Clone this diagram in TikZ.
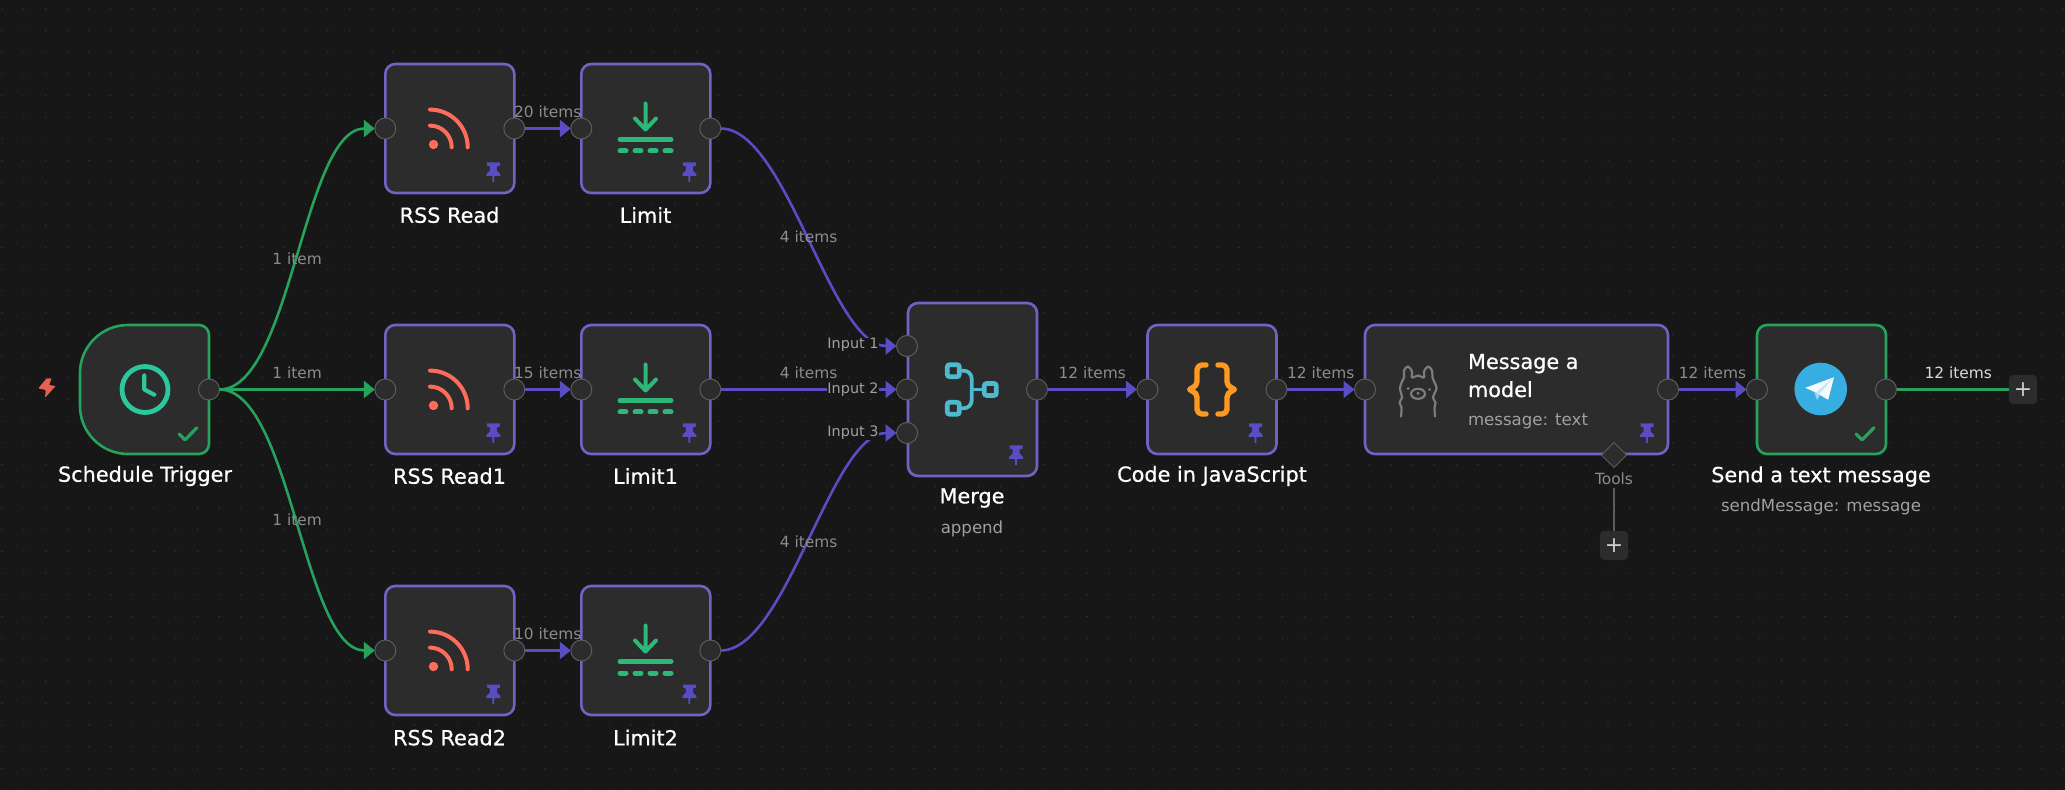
\documentclass[tikz,border=0pt]{standalone}
\usepackage{fontspec}
\setmainfont{DejaVu Sans}
\newfontfamily\wftitlefont[FakeBold=0.6]{DejaVu Sans}
\usepackage{tikz}
\usetikzlibrary{arrows.meta}
\usetikzlibrary{shapes.geometric}
\definecolor{wf_bg}{HTML}{171717}
\definecolor{wf_dot}{HTML}{333333}
\definecolor{wf_fill}{HTML}{2C2C2C}
\definecolor{wf_purple}{HTML}{7063C4}
\definecolor{wf_wire}{HTML}{5A4CC2}
\definecolor{wf_green}{HTML}{26A25C}
\definecolor{wf_grey}{HTML}{8C8C8C}
\definecolor{wf_sub}{HTML}{A0A0A0}
\definecolor{wf_portline}{HTML}{5C5C5C}
\definecolor{wf_rss}{HTML}{FF6D5A}
\definecolor{wf_limit}{HTML}{2DB878}
\definecolor{wf_clock}{HTML}{2CC79D}
\definecolor{wf_merge}{HTML}{4FB9CF}
\definecolor{wf_code}{HTML}{FF9922}
\definecolor{wf_llama}{HTML}{7C7C7C}
\definecolor{wf_sky}{HTML}{37AEE2}
\definecolor{wf_bolt}{HTML}{E8604F}
\tikzset{wf_chart/.style={x=0.5pt,y=-0.5pt,inner sep=0pt,outer sep=0pt}}
\tikzset{wf_box/.style={draw=wf_purple,fill=wf_fill,line width=1.3pt,rounded corners=5pt,minimum width=64.5pt,minimum height=64.5pt}}
\tikzset{wf_port/.style={circle,draw=wf_portline,fill=wf_fill,line width=0.5pt,minimum size=10.5pt}}
\tikzset{wf_edge/.style={->,>={Triangle[length=5.5pt,width=8.5pt]},draw=wf_wire,line width=1.3pt}}
\tikzset{wf_curve/.style={wf_edge,out=0,in=180,looseness=0.6}}
\tikzset{wf_title/.style={text=white,font=\wftitlefont\fontsize{10.4}{14}\selectfont}}
\tikzset{wf_note/.style={text=wf_sub,font=\fontsize{8.3}{10}\selectfont}}
\tikzset{wf_input/.style={text=wf_sub,font=\fontsize{7.2}{10}\selectfont}}
\tikzset{wf_count/.style={text=wf_grey,font=\fontsize{7.7}{10}\selectfont}}
\tikzset{wf_plus/.style={draw=none,fill=wf_fill,rounded corners=2.2pt,minimum width=14.2pt,minimum height=14.5pt,text=white!80!black,font=\fontsize{11}{11}\selectfont}}
\tikzset{
    pin_icon/.pic={
        \fill[wf_wire] (-6.5,-9.5) -- (6.5,-9.5) -- (6.5,-6.5) -- (3.5,-5.5) -- (3.5,-1.5) -- (7,2) -- (7,4) -- (1,4) -- (0.8,10) -- (-0.8,10) -- (-1,4) -- (-7,4) -- (-7,2) -- (-3.5,-1.5) -- (-3.5,-5.5) -- (-6.5,-6.5) -- cycle;
    },
    check_icon/.pic={
        \draw[wf_green,line width=1.6pt,line cap=round,line join=round] (-30,-20) -- (-24,-14.2) -- (-12,-26.3);
    },
    rss_icon/.pic={
        \fill[color=wf_rss] (-16,16) circle (4.7);
        \draw[wf_rss,line width=2pt,line cap=round] (-19.5,-2.9) arc[start angle=-90,end angle=0,radius=21.7];
        \draw[wf_rss,line width=2pt,line cap=round] (-19.5,-18.9) arc[start angle=-90,end angle=0,radius=37.7];
    },
    limit_icon/.pic={
        \draw[wf_limit,line width=2pt,line cap=round,line join=round] (0,-25) -- (0,1) (-10.5,-10) -- (0,1) -- (10.5,-10);
        \draw[wf_limit,line width=2.5pt,line cap=round] (-25.5,11) -- (25.5,11);
        \foreach \dashx in {-25.5,-10.5,4.5,19.5}
            \draw[wf_limit,line width=2.5pt,line cap=round] (\dashx,22.5) -- (\dashx+6,22.5);
    },
    clock_icon/.pic={
        \draw[wf_clock,line width=2.4pt] (0,0) circle (23);
        \draw[wf_clock,line width=2.1pt,line cap=round,line join=round] (-0.7,-14) -- (-0.7,0) -- (9.3,5.2);
    },
    merge_icon/.pic={
        \foreach \sqx/\sqy in {-18.7/-18.8,-18.7/18.8,18.3/0}
            \draw[wf_merge,line width=2.35pt,rounded corners=1.2pt] (\sqx-6,\sqy-6) rectangle (\sqx+6,\sqy+6);
        \draw[wf_merge,line width=1.9pt,rounded corners=4pt] (-11,-18.8) -- (-0.3,-18.8) -- (-0.3,18.8) -- (-11,18.8);
        \draw[wf_merge,line width=1.9pt] (-0.3,0) -- (10,0);
    },
    code_icon/.pic={
        \draw[wf_code,line width=2.7pt,rounded corners=2.4pt,line cap=round,line join=round] (-6,-24.5) -- (-15,-24.5) -- (-15,-3) -- (-25,0) -- (-15,3) -- (-15,24.5) -- (-6,24.5);
        \draw[wf_code,line width=2.7pt,rounded corners=2.4pt,line cap=round,line join=round] (6,-24.5) -- (15,-24.5) -- (15,-3) -- (25,0) -- (15,3) -- (15,24.5) -- (6,24.5);
    },
    llama_icon/.pic={
        \draw[wf_llama,line width=1.1pt,line cap=round,line join=round] plot[smooth,tension=0.6] coordinates {(-17,25) (-16.5,16) (-18.5,11) (-16,6) (-18,-3) (-16,-10) (-14,-14) (-14,-21) (-10,-25) (-6,-20) (-6,-14) (0,-16) (6,-14) (6,-20) (10,-25) (14,-21) (14.5,-14) (17,-8) (18.5,-3) (15,6) (17.5,11) (16.5,16) (17,25)};
        \draw[wf_llama,line width=1.1pt] (0,2.3) ellipse (7 and 5);
        \fill[wf_llama] (-10,-3) circle (1.5) (11.5,-2) circle (1.5) (0,1.8) circle (1.7);
    },
    plane_icon/.pic={
        \fill[color=wf_sky] (0,0) circle (26.3);
        \fill[white!95!wf_sky] (13.3,-11.8) -- (-15.3,-1.2) -- (-5,3.5) -- (7.5,10.8) -- cycle;
        \fill[wf_sky!30!white] (13.3,-11.8) -- (-5,3.5) -- (-2.5,6.2) -- cycle;
        \fill[wf_sky!50!white] (-6.5,3.5) -- (-3.5,11) -- (-1,6) -- cycle;
    }
}

\begin{document}
\begin{tikzpicture}[wf_chart]
    \useasboundingbox[fill=wf_bg] (0,0) rectangle (2065,790);
    \foreach \dx in {0,...,95}
        \foreach \dy in {0,...,36}
            \fill[wf_dot] ({2.2+21.7*\dx},{8.9+21.7*\dy}) circle (0.8);

    \node[wf_box] (rss1) at (449.8,128.5) {};
    \node[wf_box] (limit1) at (645.8,128.5) {};
    \node[wf_box] (rss2) at (449.8,389.5) {};
    \node[wf_box] (limit2) at (645.8,389.5) {};
    \node[wf_box] (rss3) at (449.8,650.5) {};
    \node[wf_box] (limit3) at (645.8,650.5) {};
    \node[wf_box, minimum height=86.5pt] (merge) at (972.5,389.5) {};
    \node[wf_box] (code) at (1212,389.5) {};
    \node[wf_box, minimum width=151.5pt] (model) at (1516.5,389.5) {};
    \node[wf_box, draw=wf_green] (send) at (1821.5,389.5) {};

    %trigger has the big round left side
    \filldraw[draw=wf_green,fill=wf_fill,line width=1.3pt] (128,325) -- (199,325) arc[start angle=-90,end angle=0,radius=10] -- (209,444) arc[start angle=0,end angle=90,radius=10] -- (128,454) arc[start angle=90,end angle=180,radius=48] -- (80,373) arc[start angle=180,end angle=270,radius=48] -- cycle;
    \coordinate (trigger) at (209,389.5);
    \fill[wf_bolt,rounded corners=0.4pt] (46.7,378.3) -- (51.7,378.3) -- (49,385) -- (55.7,386) -- (45,397.7) -- (45.8,390) -- (38.3,388.3) -- cycle;

    \pic at (145,389.5) {clock_icon};
    \pic at (449.5,128.5) {rss_icon};
    \pic at (449.5,389.5) {rss_icon};
    \pic at (449.5,650.5) {rss_icon};
    \pic at (645.5,128.5) {limit_icon};
    \pic at (645.5,389.5) {limit_icon};
    \pic at (645.5,650.5) {limit_icon};
    \pic at (972,389.5) {merge_icon};
    \pic at (1212,389.5) {code_icon};
    \pic at (1418,391.5) {llama_icon};
    \pic at (1820.7,389) {plane_icon};
    \foreach \n in {rss1,limit1,rss2,limit2,rss3,limit3,merge,code,model}
        \pic at ([shift={(-21,-21)}]\n.south east) {pin_icon};
    \pic at (trigger |- send.south) {check_icon};
    \pic at (send.south east) {check_icon};

    \node[wf_port] (trigger_out) at (trigger) {};
    \foreach \n in {rss1,limit1,rss2,limit2,rss3,limit3,code,model,send} {
        \node[wf_port] (\n_in) at (\n.west) {};
        \node[wf_port] (\n_out) at (\n.east) {};
    }
    \node[wf_port] (merge_in1) at (907,346) {};
    \node[wf_port] (merge_in2) at (907,389.5) {};
    \node[wf_port] (merge_in3) at (907,433) {};
    \node[wf_port] (merge_out) at (merge.east) {};
    \node[diamond,aspect=1,draw=wf_portline,fill=wf_fill,line width=0.5pt,minimum size=12.5pt] (model_tools) at (1614,455) {};
    \node[wf_plus] (tools_add) at (1614,545.5) {+};
    \node[wf_plus] (send_add) at (2023,389.5) {+};

    \path[every node/.style={wf_count}]
        (trigger_out) edge [wf_curve, draw=wf_green] node {1 item} (rss1_in)
        (trigger_out) edge [wf_edge, draw=wf_green] node [above=5.5pt] {1 item} (rss2_in)
        (trigger_out) edge [wf_curve, draw=wf_green] node {1 item} (rss3_in)
        (rss1_out) edge [wf_edge] node [above=5.5pt] {20 items} (limit1_in)
        (rss2_out) edge [wf_edge] node [above=5.5pt] {15 items} (limit2_in)
        (rss3_out) edge [wf_edge] node [above=5.5pt] {10 items} (limit3_in)
        (limit1_out) edge [wf_curve] node {4 items} (merge_in1)
        (limit2_out) edge [wf_edge] node [above=5.5pt] {4 items} (merge_in2)
        (limit3_out) edge [wf_curve] node {4 items} (merge_in3)
        (merge_out) edge [wf_edge] node [above=5.5pt] {12 items} (code_in)
        (code_out) edge [wf_edge] node [above=5.5pt] {12 items} (model_in)
        (model_out) edge [wf_edge] node [above=5.5pt] {12 items} (send_in)
        (send_out) edge [wf_edge, -, draw=wf_green] node [pos=0.55, above=5.5pt, text=white!85!black] {12 items} (send_add)
        (model_tools) edge [wf_edge, -, draw=wf_portline] node [pos=0.17, fill=wf_bg, inner ysep=2pt] {Tools} (tools_add)
    ;

    \node[wf_input, anchor=east, fill=wf_bg] (input1) at (878.5,345) {Input 1};
    \node[wf_input, anchor=east, fill=wf_bg] (input2) at (878.5,389.5) {Input 2};
    \node[wf_input, anchor=east, fill=wf_bg] (input3) at (878.5,433) {Input 3};

    \node[wf_title] (trigger_name) at (145,476) {Schedule Trigger};
    \node[wf_title] (rss1_name) at (449.5,215) {RSS Read};
    \node[wf_title] (limit1_name) at (645.5,215) {Limit};
    \node[wf_title] (rss2_name) at (449.5,476) {RSS Read1};
    \node[wf_title] (limit2_name) at (645.5,476) {Limit1};
    \node[wf_title] (rss3_name) at (449.5,737.5) {RSS Read2};
    \node[wf_title] (limit3_name) at (645.5,737.5) {Limit2};
    \node[wf_title] (merge_name) at (972,498) {Merge};
    \node[wf_note] (merge_mode) at (972,529) {append};
    \node[wf_title] (code_name) at (1212,476) {Code in JavaScript};
    \node[wf_title, anchor=base west] (model_name) at (1468,369) {Message a};
    \node[wf_title, anchor=base west] (model_name2) at (1468,397) {model};
    \node[wf_note, anchor=base west] (model_mode) at (1468,426) {message: text};
    \node[wf_title] (send_name) at (1821,476.5) {Send a text message};
    \node[wf_note] (send_mode) at (1821,507) {sendMessage: message};
\end{tikzpicture}
\end{document}
